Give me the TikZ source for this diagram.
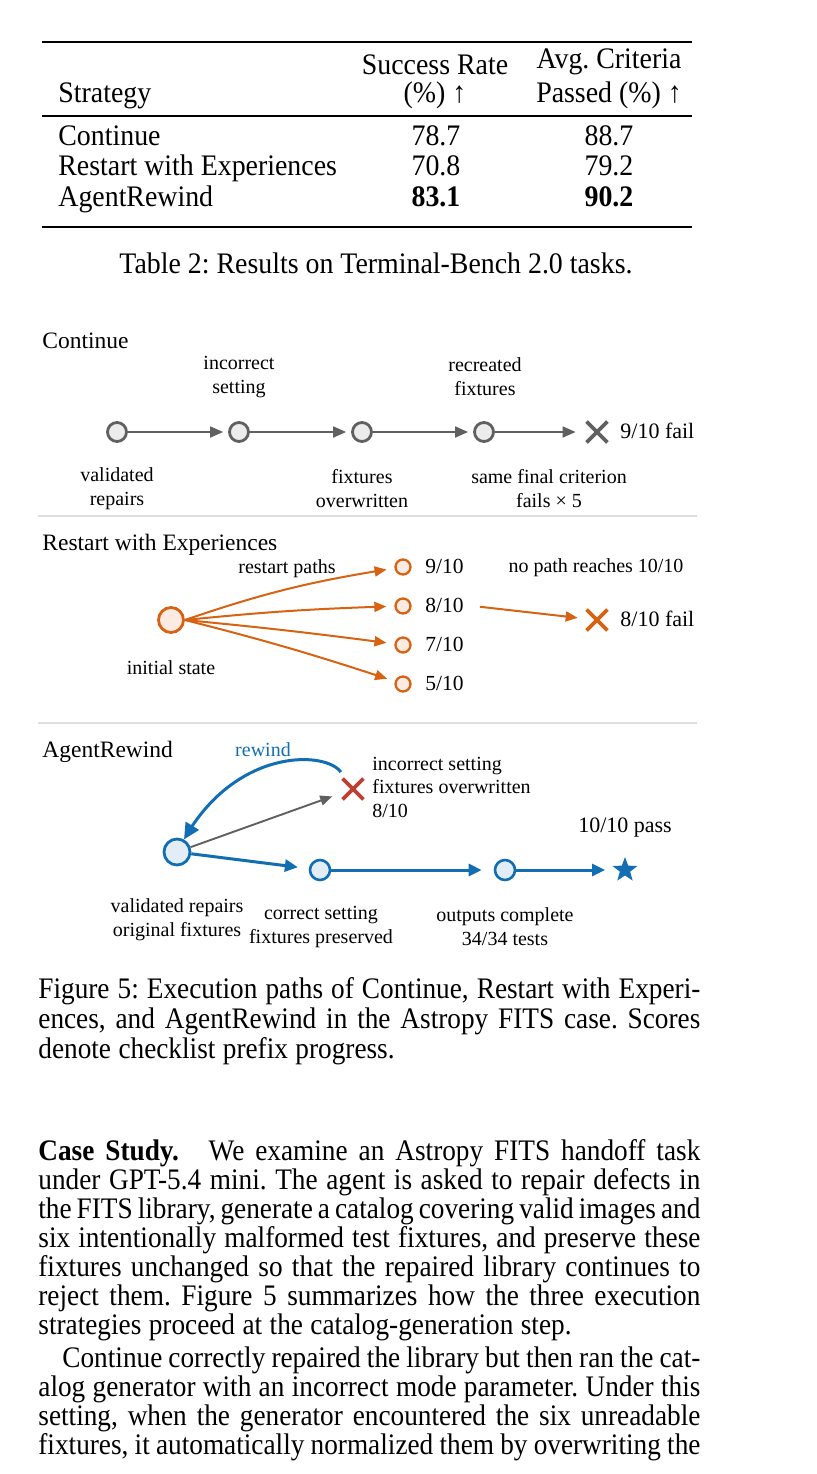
\documentclass[tikz,border=0pt]{standalone}
\usepackage{fontspec}
\setmainfont{Liberation Serif}
\newfontfamily\bodyfam[FakeStretch=0.915]{Liberation Serif}
\newfontfamily\tabfam[FakeStretch=0.935]{Liberation Serif}
\usetikzlibrary{arrows.meta,shapes.misc,shapes.geometric,bending}

\definecolor{cgray}{RGB}{96,96,96}
\definecolor{cgfill}{RGB}{236,236,236}
\definecolor{corange}{RGB}{214,98,18}
\definecolor{cofill}{RGB}{252,235,226}
\definecolor{cblue}{RGB}{18,110,178}
\definecolor{cbfill}{RGB}{226,237,247}
\definecolor{cred}{RGB}{190,64,50}
\definecolor{csep}{RGB}{222,222,222}

\newcommand{\bodyfont}{\bodyfam\fontsize{14.9}{15.5}\selectfont\frenchspacing\spaceskip=0.25em plus 0.3em minus 0.15em\relax}
\newcommand{\tabfont}{\tabfam\fontsize{14.9}{15.5}\selectfont\frenchspacing}
\newcommand{\fullline}[1]{\makebox[331pt][s]{#1}}

\begin{document}
\begin{tikzpicture}[x=0.5pt,y=-0.5pt,
  txt/.style={inner sep=0pt, font=\bodyfont},
  jline/.style={txt, anchor=base west},
  tline/.style={inner sep=0pt, font=\tabfont, anchor=base west},
  tcell/.style={inner sep=0pt, font=\tabfont, anchor=base},
  lab/.style={inner sep=0pt, font=\fontsize{10}{12}\selectfont, align=center},
  labl/.style={inner sep=0pt, font=\fontsize{10}{11.75}\selectfont, align=left, anchor=west},
  labb/.style={inner sep=0pt, font=\fontsize{10}{12}\selectfont, anchor=base},
  head/.style={inner sep=0pt, font=\fontsize{11.75}{14}\selectfont, anchor=base west},
  score/.style={inner sep=0pt, font=\fontsize{10.75}{13}\selectfont, anchor=base west},
  result/.style={inner sep=0pt, font=\fontsize{11}{13}\selectfont},
  gnode/.style={circle, draw=cgray, fill=cgfill, line width=1.4pt, minimum size=9.5pt, inner sep=0pt},
  onodebig/.style={circle, draw=corange, fill=cofill, line width=1.4pt, minimum size=12.5pt, inner sep=0pt},
  onode/.style={circle, draw=corange, fill=cofill, line width=1.15pt, minimum size=7.5pt, inner sep=0pt},
  bnodebig/.style={circle, draw=cblue, fill=cbfill, line width=1.4pt, minimum size=13pt, inner sep=0pt},
  bnode/.style={circle, draw=cblue, fill=cbfill, line width=1.3pt, minimum size=10pt, inner sep=0pt},
  xmark/.style={cross out, draw=#1, line width=1.9pt, minimum size=8.5pt, inner sep=0pt},
  starmark/.style={star, star points=5, star point ratio=2.4, fill=cblue, draw=none, minimum size=13pt, inner sep=0pt},
  garrow/.style={draw=cgray, line width=0.9pt, -{Triangle[length=6.5pt,width=5.5pt]}},
  oarrow/.style={draw=corange, line width=1pt, -{Triangle[length=6pt,width=5pt]}},
  barrow/.style={draw=cblue, line width=1.5pt, -{Triangle[length=6.5pt,width=6pt]}},
  rwarrow/.style={draw=cblue, line width=1.5pt, -{Triangle[length=8pt,width=7.5pt]}},
  grarrow/.style={draw=cgray, line width=0.95pt, -{Triangle[length=6pt,width=5pt]}},
  seprule/.style={draw=csep, line width=0.6pt}
]
\useasboundingbox (0,0) rectangle (816,1474);

% ---------------- Table ----------------
\draw[line width=1.25pt] (42,42) -- (692,42);
\draw[line width=0.6pt] (42,116) -- (692,116);
\draw[line width=1.25pt] (42,227) -- (692,227);

\node[tline] (tstrat) at (58,102) {Strategy};
\node[tcell] (tsr1) at (435,74) {Success Rate};
\node[tcell] (tsr2) at (435,102) {(\%) ↑};
\node[tcell] (tac1) at (609,68) {Avg. Criteria};
\node[tcell] (tac2) at (609,102) {Passed (\%) ↑};

\node[tline] (trow1) at (58,145) {Continue};
\node[tline] (trow2) at (58,175) {Restart with Experiences};
\node[tline] (trow3) at (58,206) {AgentRewind};
\node[tcell] (tv11) at (436,145) {78.7};
\node[tcell] (tv12) at (609,145) {88.7};
\node[tcell] (tv21) at (436,175) {70.8};
\node[tcell] (tv22) at (609,175) {79.2};
\node[tcell] (tv31) at (436,206) {\textbf{83.1}};
\node[tcell] (tv32) at (609,206) {\textbf{90.2}};

\node[tcell] (tcap) at (376,273) {Table 2: Results on Terminal-Bench 2.0 tasks.};

% ---------------- Figure: Continue ----------------
\node[head] (hcont) at (42,348) {Continue};
\node[gnode] (c1) at (117,432) {};
\node[gnode] (c2) at (239,432) {};
\node[gnode] (c3) at (362,432) {};
\node[gnode] (c4) at (484,432) {};
\node[xmark=cgray] (cx) at (597,432) {};
\draw[garrow, shorten >=2.5pt] (c1) -- (c2);
\draw[garrow, shorten >=2.5pt] (c2) -- (c3);
\draw[garrow, shorten >=2.5pt] (c3) -- (c4);
\draw[garrow, shorten >=5.5pt] (c4) -- (cx);
\node[result, anchor=base west] (cres) at (620,438) {9/10 fail};

\node[lab] (linc) at (239,377) {incorrect\\setting};
\node[lab] (lrec) at (485,377) {recreated\\fixtures};
\node[lab] (lval) at (117,489) {validated\\repairs};
\node[lab] (lfix) at (362,489) {fixtures\\overwritten};
\node[lab] (lsame) at (549,489) {same final criterion\\fails × 5};

\draw[seprule] (38,516) -- (697,516);

% ---------------- Figure: Restart ----------------
\node[head] (hrest) at (42,550) {Restart with Experiences};
\node[onodebig] (rs) at (171,620) {};
\node[onode] (r9) at (403,567) {};
\node[onode] (r8) at (403,606) {};
\node[onode] (r7) at (403,645) {};
\node[onode] (r5) at (403,684) {};
\node[score] (s9) at (425,573) {9/10};
\node[score] (s8) at (425,612) {8/10};
\node[score] (s7) at (425,651) {7/10};
\node[score] (s5) at (425,690) {5/10};
\draw[oarrow, shorten >=4pt] (rs.east) to[bend left=5] (r9);
\draw[oarrow, shorten >=4pt] (rs.east) to[bend left=2] (r8);
\draw[oarrow, shorten >=4pt] (rs.east) to[bend left=1] (r7);
\draw[oarrow, shorten >=4pt] (rs.east) to[bend left=2] (r5);
\node[xmark=corange] (rx) at (597,620) {};
\draw[oarrow, shorten <=8pt, shorten >=4.5pt] (s8.east) -- (rx);
\node[result, anchor=base west] (rres) at (620,626) {8/10 fail};
\node[labb] (lrp) at (287,573) {restart paths};
\node[labb] (lnop) at (596,572) {no path reaches 10/10};
\node[labb] (linit) at (171,674) {initial state};

\draw[seprule] (38,723) -- (697,723);

% ---------------- Figure: AgentRewind ----------------
\node[head] (hag) at (42,757) {AgentRewind};
\node[bnodebig] (a0) at (177,852) {};
\node[xmark=cred] (ax) at (353,789) {};
\node[bnode] (a1) at (320,870) {};
\node[bnode] (a2) at (505,870) {};
\node[starmark] (ast) at (625,870) {};
\draw[grarrow, shorten >=5.5pt] (a0) -- (ax);
\draw[rwarrow, shorten <=4pt] (ax) .. controls (325,750) and (235,748) .. (a0);
\draw[barrow, shorten >=5.5pt] (a0) -- (a1);
\draw[barrow, shorten >=6pt] (a1) -- (a2);
\draw[barrow, shorten >=6pt] (a2) -- (ast);
\node[labb, text=cblue] (lrw) at (263,756) {rewind};
\node[labl] (lxs) at (372,787) {incorrect setting\\fixtures overwritten\\8/10};
\node[result, anchor=base] (ares) at (625,832) {10/10 pass};
\node[lab] (lv) at (177,920) {validated repairs\\original fixtures};
\node[lab] (lc) at (321,927) {correct setting\\fixtures preserved};
\node[lab] (lo) at (505,927) {outputs complete\\34/34 tests};

% ---------------- Figure caption ----------------
\node[jline] (fc1) at (38,998) {\fullline{Figure 5: Execution paths of Continue, Restart with Experi-}};
\node[jline] (fc2) at (38,1028) {\fullline{ences, and AgentRewind in the Astropy FITS case. Scores}};
\node[jline] (fc3) at (38,1058) {denote checklist prefix progress.};

% ---------------- Body text ----------------
\node[jline] (b1) at (38,1160) {\fullline{\textbf{Case Study.}\quad We examine an Astropy FITS handoff task}};
\node[jline] (b2) at (38,1189) {\fullline{under GPT-5.4 mini. The agent is asked to repair defects in}};
\node[jline] (b3) at (38,1218) {\fullline{the FITS library, generate a catalog covering valid images and}};
\node[jline] (b4) at (38,1247) {\fullline{six intentionally malformed test fixtures, and preserve these}};
\node[jline] (b5) at (38,1276) {\fullline{fixtures unchanged so that the repaired library continues to}};
\node[jline] (b6) at (38,1305) {\fullline{reject them. Figure 5 summarizes how the three execution}};
\node[jline] (b7) at (38,1334) {strategies proceed at the catalog-generation step.};
\node[jline] (b8) at (62,1367) {\makebox[319pt][s]{Continue correctly repaired the library but then ran the cat-}};
\node[jline] (b9) at (38,1396) {\fullline{alog generator with an incorrect mode parameter. Under this}};
\node[jline] (b10) at (38,1425) {\fullline{setting, when the generator encountered the six unreadable}};
\node[jline] (b11) at (38,1454) {\fullline{fixtures, it automatically normalized them by overwriting the}};
\end{tikzpicture}
\end{document}
